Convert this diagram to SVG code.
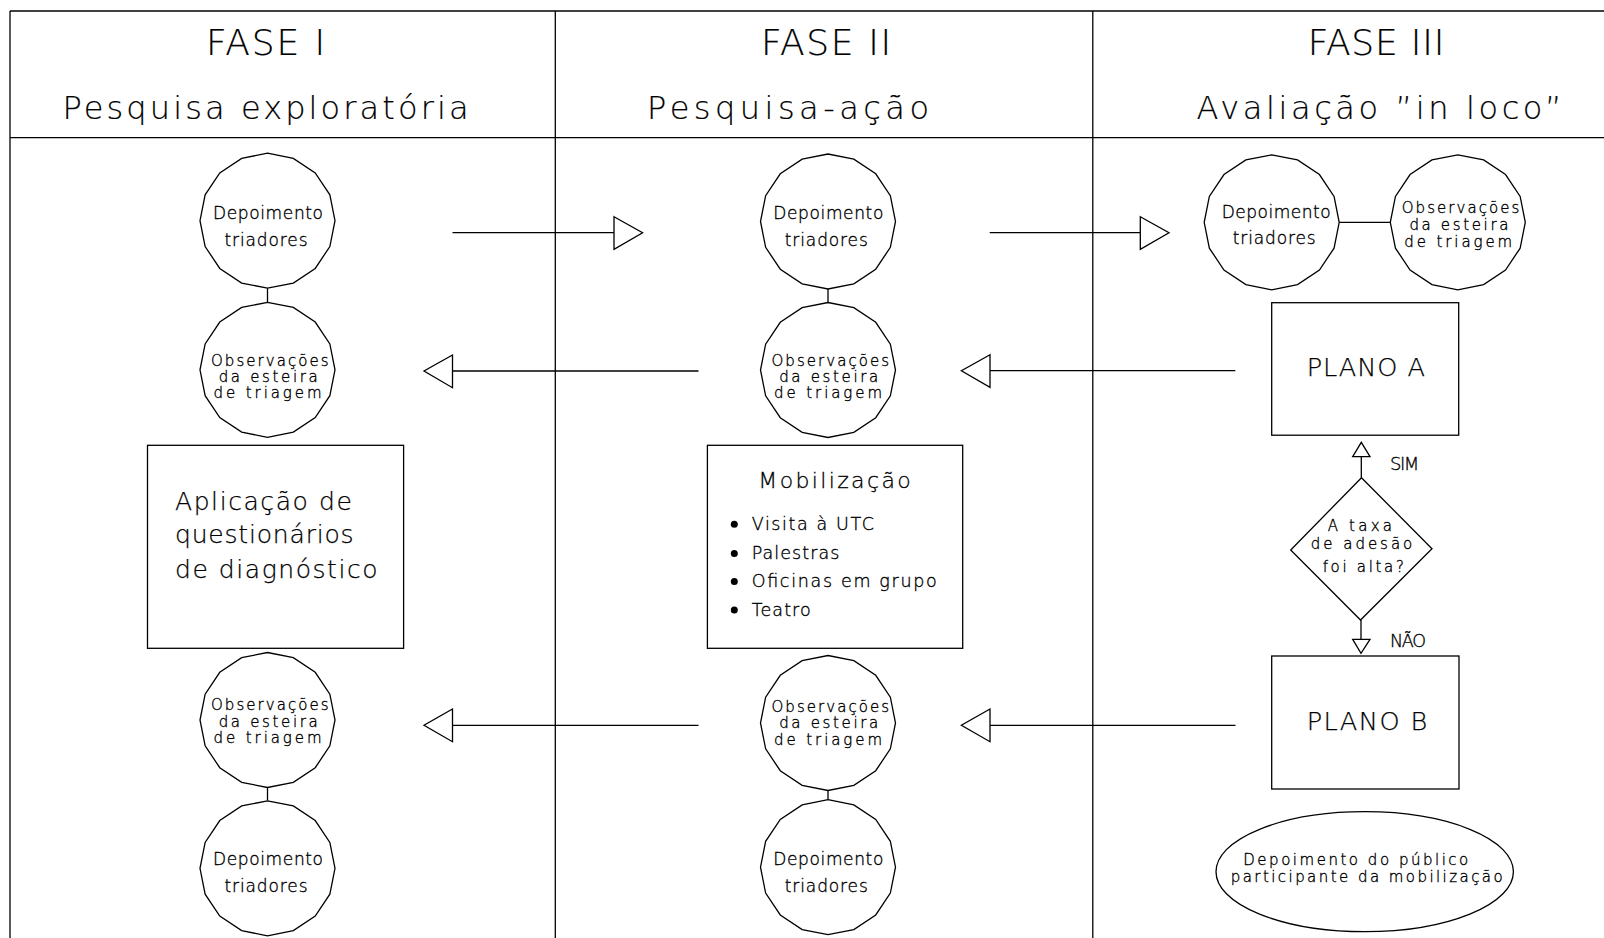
<svg xmlns="http://www.w3.org/2000/svg" xmlns:xlink="http://www.w3.org/1999/xlink" width="1604" height="938" viewBox="0 0 1604 938">
<style>
.ln{stroke:#000;stroke-width:1.3;fill:none}
.sh{stroke:#000;stroke-width:1.3;fill:#fff}
text{font-family:"DejaVu Sans","Liberation Sans",sans-serif;font-weight:200;fill:#000;stroke:#000;stroke-width:0.35}
.m{text-anchor:middle}
.h1{font-size:36px;stroke-width:0.2}
.h2{font-size:32px;stroke-width:0.2}
.s{font-size:17px}
.s3{font-size:15px}
.b{font-size:25px;stroke-width:0.25}
.bl{font-size:17.5px}
</style>
<defs>
<polygon id="circ" class="sh" points="0,-67.5 25.83,-62.36 47.73,-47.73 62.36,-25.83 67.5,0 62.36,25.83 47.73,47.73 25.83,62.36 0,67.5 -25.83,62.36 -47.73,47.73 -62.36,25.83 -67.5,0 -62.36,-25.83 -47.73,-47.73 -25.83,-62.36"/>
</defs>
<rect width="1604" height="938" fill="#fff"/>
<g id="frame" class="ln">
<line x1="10" y1="11" x2="1604" y2="11"/>
<line x1="10" y1="11" x2="10" y2="938"/>
<line x1="10" y1="137.7" x2="1604" y2="137.7"/>
<line x1="555.3" y1="11" x2="555.3" y2="938"/>
<line x1="1092.8" y1="11" x2="1092.8" y2="938"/>
</g>
<g id="headers">
<text class="h1 m" x="265.5" y="55" textLength="119">FASE I</text>
<text class="h2 m" x="265.5" y="119.3" textLength="406">Pesquisa exploratória</text>
<text class="h1 m" x="826" y="55" textLength="130">FASE II</text>
<text class="h2 m" x="788" y="119.3" textLength="282">Pesquisa-ação</text>
<text class="h1 m" x="1376" y="55" textLength="136.6">FASE III</text>
<text class="h2 m" x="1379" y="119.3" textLength="365">Avaliação ”in loco”</text>
</g>
<g id="connectors" class="ln">
<line x1="267.5" y1="287.3" x2="267.5" y2="302.3"/>
<line x1="267.5" y1="787.3" x2="267.5" y2="800.5"/>
<line x1="828" y1="289" x2="828" y2="302.5"/>
<line x1="828" y1="790.5" x2="828" y2="799.5"/>
<line x1="1339.2" y1="222.3" x2="1390.3" y2="222.3"/>
<line x1="452.5" y1="232.7" x2="614" y2="232.7"/>
<polygon class="sh" points="614,216.7 642.6,232.7 614,249.3"/>
<line x1="989.7" y1="232.7" x2="1140.3" y2="232.7"/>
<polygon class="sh" points="1140.3,216.7 1169,232.7 1140.3,249.3"/>
<line x1="452.5" y1="371" x2="698.5" y2="371"/>
<polygon class="sh" points="452.5,355 424,371 452.5,387.7"/>
<line x1="990" y1="370.7" x2="1235.3" y2="370.7"/>
<polygon class="sh" points="990,354.7 961.4,370.7 990,387.3"/>
<line x1="452.5" y1="725.3" x2="698.5" y2="725.3"/>
<polygon class="sh" points="452.5,709 424,725.3 452.5,741.7"/>
<line x1="990" y1="725.3" x2="1235.5" y2="725.3"/>
<polygon class="sh" points="990,709 961.4,725.3 990,741.7"/>
<line x1="1361.3" y1="477.7" x2="1361.3" y2="456.7"/>
<polygon class="sh" points="1352.7,456.7 1361.3,442.3 1370,456.7"/>
<line x1="1361" y1="620" x2="1361" y2="639.3"/>
<polygon class="sh" points="1352.7,639.3 1361,653.3 1370,639.3"/>
</g>
<g id="f1-dep1"><use href="#circ" x="267.5" y="220.7"/>
<text class="s m" x="268" y="219.3" textLength="110">Depoimento</text>
<text class="s m" x="266" y="246" textLength="83">triadores</text></g>
<g id="f1-obs1"><use href="#circ" x="267.5" y="369.8"/>
<text class="s3 m" x="269.8" y="365.5" textLength="117.6">Observações</text>
<text class="s3 m" x="268.2" y="381.8" textLength="99">da esteira</text>
<text class="s3 m" x="267.5" y="397.7" textLength="108">de triagem</text></g>
<g id="f1-aplic"><rect class="sh" x="147.5" y="445.3" width="256.1" height="203"/>
<text class="b" x="175" y="510" textLength="176.8">Aplicação de</text>
<text class="b" x="175" y="543.3" textLength="178.6">questionários</text>
<text class="b" x="175" y="578.3" textLength="202.5">de diagnóstico</text></g>
<g id="f1-obs2"><use href="#circ" x="267.5" y="720"/>
<text class="s3 m" x="269.8" y="710" textLength="117.6">Observações</text>
<text class="s3 m" x="268.2" y="726.7" textLength="99">da esteira</text>
<text class="s3 m" x="267.5" y="743.3" textLength="108">de triagem</text></g>
<g id="f1-dep2"><use href="#circ" x="267.5" y="868.3"/>
<text class="s m" x="268" y="865" textLength="110">Depoimento</text>
<text class="s m" x="266" y="891.7" textLength="83">triadores</text></g>
<g id="f2-dep1"><use href="#circ" x="828" y="221.5"/>
<text class="s m" x="828.3" y="219.3" textLength="110">Depoimento</text>
<text class="s m" x="826.3" y="246" textLength="83">triadores</text></g>
<g id="f2-obs1"><use href="#circ" x="828" y="370"/>
<text class="s3 m" x="830.3" y="365.5" textLength="117.6">Observações</text>
<text class="s3 m" x="828.7" y="381.8" textLength="99">da esteira</text>
<text class="s3 m" x="828" y="397.7" textLength="108">de triagem</text></g>
<g id="f2-mob"><rect class="sh" x="707.4" y="445.3" width="255.3" height="203"/>
<text x="758.3" y="488.3" font-size="22" textLength="152.4" style="stroke-width:0.3">Mobilização</text>
<circle cx="734.3" cy="524.3" r="3.5"/>
<circle cx="734.3" cy="553.6" r="3.5"/>
<circle cx="734.3" cy="581.6" r="3.5"/>
<circle cx="734.3" cy="610" r="3.5"/>
<text class="bl" x="751.7" y="530" textLength="122.3">Visita à UTC</text>
<text class="bl" x="751.7" y="559.3" textLength="87.6">Palestras</text>
<text class="bl" x="751.7" y="587.3" textLength="185">Oficinas em grupo</text>
<text class="bl" x="751.7" y="615.7" textLength="59">Teatro</text></g>
<g id="f2-obs2"><use href="#circ" x="828" y="723"/>
<text class="s3 m" x="830.3" y="711.7" textLength="117.6">Observações</text>
<text class="s3 m" x="828.7" y="728.3" textLength="99">da esteira</text>
<text class="s3 m" x="828" y="745" textLength="108">de triagem</text></g>
<g id="f2-dep2"><use href="#circ" x="828" y="867.2"/>
<text class="s m" x="828.3" y="865" textLength="110">Depoimento</text>
<text class="s m" x="826.3" y="891.7" textLength="83">triadores</text></g>
<g id="f3-dep"><use href="#circ" x="1271.7" y="222.3"/>
<text class="s m" x="1276.2" y="218.3" textLength="109">Depoimento</text>
<text class="s m" x="1274.2" y="244.3" textLength="83">triadores</text></g>
<g id="f3-obs"><use href="#circ" x="1457.8" y="222.3"/>
<text class="s3 m" x="1460.5" y="213.3" textLength="117.6">Observações</text>
<text class="s3 m" x="1458.9" y="230" textLength="99">da esteira</text>
<text class="s3 m" x="1458.2" y="246.7" textLength="108">de triagem</text></g>
<g id="f3-planoA"><rect class="sh" x="1271.7" y="302.7" width="187" height="132.5"/>
<text x="1306.7" y="376" font-size="25.6" textLength="118.3" style="stroke-width:0.25">PLANO A</text></g>
<g id="f3-decisao"><polygon class="sh" points="1361.5,477.7 1432,548.8 1360.5,620 1290.7,550"/>
<text class="s3 m" x="1359.8" y="530.7" textLength="64.3">A taxa</text>
<text class="s3 m" x="1361.5" y="549.3" textLength="101.6">de adesão</text>
<text class="s3 m" x="1363.3" y="571.7" textLength="81.3">foi alta?</text>
<text x="1390" y="470" font-size="18" textLength="29.3">SIM</text>
<text x="1390" y="646.7" font-size="17.5" textLength="36">NÃO</text></g>
<g id="f3-planoB"><rect class="sh" x="1271.7" y="656" width="187.3" height="133"/>
<text x="1306.7" y="730" font-size="25.6" textLength="120.6" style="stroke-width:0.25">PLANO B</text></g>
<g id="f3-publico"><ellipse class="sh" cx="1364.7" cy="871.7" rx="148.7" ry="60"/>
<text class="s3 m" x="1355.8" y="865" textLength="225">Depoimento do público</text>
<text class="s3 m" x="1366.7" y="881.7" textLength="272">participante da mobilização</text></g>
</svg>
